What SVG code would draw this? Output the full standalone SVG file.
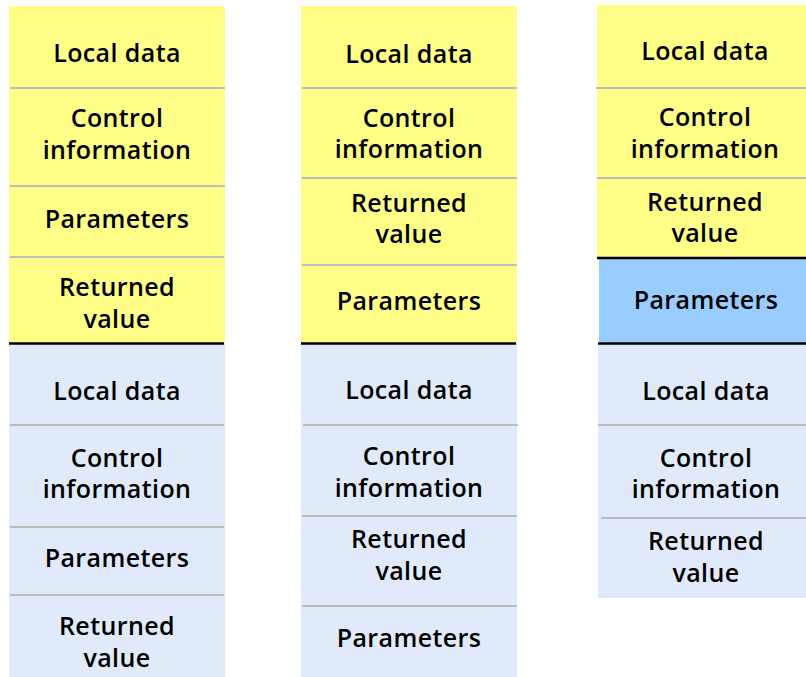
<svg xmlns="http://www.w3.org/2000/svg" width="806" height="677" viewBox="0 0 806 677">
<style>
.y{fill:#ffff88}
.l{fill:#e0eafa}
.b{fill:#99ccff}
text{font-family:"Open Sans","Liberation Sans",sans-serif;font-weight:600;font-size:25px;letter-spacing:0.4px;fill:#000;text-anchor:middle}
.sep{stroke:#bdbdbd;stroke-width:2;fill:none}
.blk{stroke:#000;stroke-width:2.5;fill:none}
</style>
<rect width="806" height="677" fill="#ffffff"/>
<g id="col1">
<g id="c1-local1"><rect class="y" x="9" y="6" width="216" height="82"/><text x="117" y="62">Local data</text></g>
<g id="c1-control1"><rect class="y" x="9" y="88" width="216" height="98"/><text x="117" y="127">Control<tspan x="117" dy="31.6">information</tspan></text></g>
<g id="c1-params1"><rect class="y" x="9" y="186" width="216" height="71"/><text x="117" y="228">Parameters</text></g>
<g id="c1-ret1"><rect class="y" x="9" y="257" width="216" height="87"/><text x="117" y="296.3">Returned<tspan x="117" dy="31.6">value</tspan></text></g>
<g id="c1-local2"><rect class="l" x="9" y="344" width="216" height="81"/><text x="117" y="400">Local data</text></g>
<g id="c1-control2"><rect class="l" x="9" y="425" width="216" height="102"/><text x="117" y="466.7">Control<tspan x="117" dy="31.6">information</tspan></text></g>
<g id="c1-params2"><rect class="l" x="9" y="527" width="216" height="68"/><text x="117" y="567">Parameters</text></g>
<g id="c1-ret2"><rect class="l" x="9" y="595" width="216" height="82"/><text x="117" y="635">Returned<tspan x="117" dy="31.6">value</tspan></text></g>
</g>
<g id="col2">
<g id="c2-local1"><rect class="y" x="301" y="6" width="216" height="82"/><text x="409" y="62.5">Local data</text></g>
<g id="c2-control1"><rect class="y" x="301" y="88" width="216" height="90"/><text x="409" y="126.7">Control<tspan x="409" dy="31.6">information</tspan></text></g>
<g id="c2-ret1"><rect class="y" x="301" y="178" width="216" height="87"/><text x="409" y="211.7">Returned<tspan x="409" dy="31.6">value</tspan></text></g>
<g id="c2-params1"><rect class="y" x="301" y="265" width="216" height="79"/><text x="409" y="310">Parameters</text></g>
<g id="c2-local2"><rect class="l" x="301" y="344" width="216" height="81"/><text x="409" y="399">Local data</text></g>
<g id="c2-control2"><rect class="l" x="301" y="425" width="216" height="91"/><text x="409" y="465.2">Control<tspan x="409" dy="31.6">information</tspan></text></g>
<g id="c2-ret2"><rect class="l" x="301" y="516" width="216" height="90"/><text x="409" y="548.2">Returned<tspan x="409" dy="31.6">value</tspan></text></g>
<g id="c2-params2"><rect class="l" x="301" y="606" width="216" height="71"/><text x="409" y="647">Parameters</text></g>
</g>
<g id="col3">
<g id="c3-local1"><rect class="y" x="597" y="5" width="216" height="83"/><text x="705" y="60">Local data</text></g>
<g id="c3-control1"><rect class="y" x="597" y="88" width="216" height="90"/><text x="705" y="126">Control<tspan x="705" dy="31.6">information</tspan></text></g>
<g id="c3-ret1"><rect class="y" x="597" y="178" width="216" height="80"/><text x="705" y="210.7">Returned<tspan x="705" dy="31.6">value</tspan></text></g>
<g id="c3-params"><rect class="b" x="599" y="258" width="214" height="86"/><text x="706" y="309.3">Parameters</text></g>
<g id="c3-local2"><rect class="l" x="598" y="344" width="215" height="81"/><text x="706" y="400">Local data</text></g>
<g id="c3-control2"><rect class="l" x="598" y="425" width="215" height="93"/><text x="706" y="466.7">Control<tspan x="706" dy="31.6">information</tspan></text></g>
<g id="c3-ret2"><rect class="l" x="598" y="518" width="215" height="80"/><text x="706" y="550">Returned<tspan x="706" dy="31.6">value</tspan></text></g>
</g>
<g id="connectors">
<line class="sep" x1="10" y1="88" x2="225" y2="88"/>
<line class="sep" x1="10" y1="186" x2="225" y2="186"/>
<line class="sep" x1="10" y1="257" x2="224" y2="257"/>
<line class="blk" x1="9" y1="343.5" x2="224" y2="343.5"/>
<line class="sep" x1="10" y1="425" x2="224" y2="425"/>
<line class="sep" x1="10" y1="527" x2="224" y2="527"/>
<line class="sep" x1="10" y1="595" x2="224" y2="595"/>
<line class="sep" x1="302" y1="88" x2="517" y2="88"/>
<line class="sep" x1="302" y1="178" x2="517" y2="178"/>
<line class="sep" x1="302" y1="265" x2="517" y2="265"/>
<line class="blk" x1="301" y1="343.5" x2="516" y2="343.5"/>
<line class="sep" x1="303" y1="425" x2="518" y2="425"/>
<line class="sep" x1="302" y1="516" x2="517" y2="516"/>
<line class="sep" x1="302" y1="606" x2="517" y2="606"/>
<line class="sep" x1="596" y1="88" x2="806" y2="88"/>
<line class="sep" x1="597" y1="178" x2="806" y2="178"/>
<line class="blk" x1="597" y1="258" x2="806" y2="258"/>
<line class="blk" x1="598" y1="343.5" x2="806" y2="343.5"/>
<line class="sep" x1="598" y1="425" x2="806" y2="425"/>
<line class="sep" x1="601" y1="518" x2="806" y2="518"/>
</g>
</svg>
